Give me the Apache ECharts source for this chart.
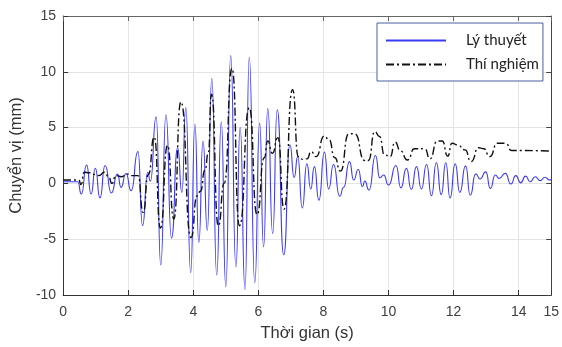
<!DOCTYPE html>
<html><head><meta charset="utf-8">
<script src="https://cdn.jsdelivr.net/npm/echarts@6/dist/echarts.min.js"></script>
<style>html,body{margin:0;padding:0;background:#fff}#c{width:562px;height:347px}</style>
</head><body><div id="c"></div>
<script>
// Lý thuyết (theory) – time (s) and displacement (mm)
const theoryT = [0,0.45,0.56,0.72,0.86,0.99,1.13,1.29,1.48,1.67,1.78,1.93,2.09,2.30,2.44,2.60,2.68,2.86,3.00,3.16,3.33,3.52,3.65,3.77,3.92,4.05,4.17,4.30,4.43,4.57,4.72,4.86,5.00,5.15,5.31,5.44,5.59,5.72,5.89,6.04,6.16,6.29,6.44,6.58,6.78,6.97,7.10,7.21,7.35,7.49,7.61,7.72,7.86,8.03,8.16,8.31,8.50,8.62,8.80,8.93,9.07,9.20,9.27,9.40,9.60,9.73,9.85,10.00,10.23,10.38,10.55,10.70,10.86,11.01,11.17,11.32,11.47,11.62,11.76,11.89,12.05,12.19,12.37,12.51,12.68,12.81,12.99,13.13,13.28,13.40,13.59,13.76,13.91,14.06,14.21,14.35,14.51,14.66,14.81,14.95,15.00];
const theoryV = [0.15,0.15,-0.95,1.66,-0.95,1.36,-1.3,1.6,-0.86,0.83,-0.36,0.89,-0.65,2.85,-3.77,1.0,0.2,5.96,-7.3,6.15,-4.9,3.2,-0.8,6.8,-8.0,5.3,-5.3,3.8,-4.2,9.4,-8.2,5.5,-9.26,11.45,-7.5,5.0,-9.5,11.3,-8.9,5.4,-5.7,6.7,-4.5,6.6,-6.4,3.44,0.53,2.4,-2.2,1.75,-0.5,1.5,-1.5,2.8,-0.5,1.7,-1.15,-0.35,1.95,0.3,1.25,-0.3,0.2,-0.6,2.5,0.5,0.75,-0.15,1.6,-0.4,1.35,-0.55,1.5,-0.5,1.7,-1.1,1.85,-1.0,1.85,-1.3,1.75,-0.8,1.57,-1.06,0.85,0.4,1.03,-0.45,0.75,0.45,0.9,-0.05,0.7,0.05,0.65,0.15,0.6,0.25,0.55,0.3,0.35];
// Thí nghiệm (experiment)
const testT = [0,0.48,0.55,0.65,0.80,1.00,1.10,1.27,1.40,1.50,1.62,1.80,1.95,2.10,2.30,2.46,2.62,2.80,2.99,3.21,3.40,3.62,3.93,4.12,4.22,4.36,4.46,4.56,4.77,4.95,5.19,5.42,5.72,5.96,6.18,6.29,6.43,6.60,6.79,7.05,7.23,7.37,7.50,7.62,7.77,8.03,8.17,8.35,8.52,8.78,8.96,9.27,9.38,9.58,9.72,9.88,10.05,10.20,10.37,10.58,10.80,11.12,11.27,11.50,11.65,11.82,11.95,12.12,12.35,12.54,12.77,12.93,13.11,13.35,13.60,13.78,15.00];
const testV = [0.3,0.3,-0.1,1.0,0.95,0.8,0.7,1.0,0.6,0.0,0.7,0.6,0.85,0.7,0.7,-2.6,0.8,4.15,-4.0,3.4,-3.2,7.3,-4.85,-1.1,-0.7,1.2,2.7,8.0,-3.8,0.0,10.3,-3.8,6.77,-2.8,2.3,3.8,2.7,4.1,-2.3,8.4,2.4,2.15,2.2,2.85,2.4,4.25,3.9,2.3,1.1,4.45,4.45,2.05,2.05,4.65,4.2,2.55,2.4,3.7,2.9,2.1,3.1,3.1,2.2,3.8,3.8,2.45,3.6,3.45,3.0,1.95,3.2,3.1,2.4,3.6,3.6,2.95,2.9];

const seriesNames = ['Lý thuyết', 'Thí nghiệm'];
const xTitle = 'Thời gian (s)';
const yTitle = 'Chuyển vị (mm)';

const zip = (a, b) => a.map((t, i) => [t, b[i]]);
const chart = echarts.init(document.getElementById('c'), null, {renderer: 'canvas'});
const axisFont = 'Liberation Sans, Arial, sans-serif';
const baseX = {type: 'value', min: 0, max: 15, interval: 2};
const baseY = {type: 'value', min: -10, max: 15, interval: 5};
chart.setOption({
  animation: false,
  backgroundColor: '#fff',
  grid: {left: 60, right: 8, top: 16, bottom: 50, containLabel: false},
  legend: {
    orient: 'vertical', left: 377, top: 23,
    padding: [10, 4, 9, 8], itemGap: 9, itemWidth: 60, itemHeight: 14,
    borderColor: '#4a5f9c', borderWidth: 1, backgroundColor: '#fff',
    itemStyle: {opacity: 0},
    textStyle: {fontFamily: 'Lato, Open Sans, sans-serif', fontSize: 15, color: '#222', padding: [0, 0, 0, 15]},
    data: seriesNames
  },
  xAxis: [
    Object.assign({}, baseX, {
      position: 'bottom',
      name: xTitle, nameLocation: 'middle', nameGap: 30,
      nameTextStyle: {fontFamily: axisFont, fontSize: 16.5, color: '#333'},
      axisLine: {show: true, onZero: false, lineStyle: {color: '#333', width: 1}},
      axisTick: {show: true, inside: true, length: 5, lineStyle: {color: '#333'}},
      axisLabel: {fontFamily: axisFont, fontSize: 14, color: '#404040', margin: 10},
      splitLine: {show: true, lineStyle: {color: '#e4e4e4', width: 1}}
    }),
    Object.assign({}, baseX, {
      position: 'top',
      axisLine: {show: true, onZero: false, lineStyle: {color: '#666', width: 1}},
      axisTick: {show: true, inside: true, length: 5, lineStyle: {color: '#666'}},
      axisLabel: {show: false},
      splitLine: {show: false}
    })
  ],
  yAxis: [
    Object.assign({}, baseY, {
      position: 'left',
      name: yTitle, nameLocation: 'middle', nameGap: 28, nameRotate: 90,
      nameTextStyle: {fontFamily: axisFont, fontSize: 16.5, color: '#333'},
      axisLine: {show: true, onZero: false, lineStyle: {color: '#333', width: 1}},
      axisTick: {show: true, inside: true, length: 5, lineStyle: {color: '#333'}},
      axisLabel: {fontFamily: axisFont, fontSize: 14, color: '#404040', margin: 7},
      splitLine: {show: true, lineStyle: {color: '#e4e4e4', width: 1}}
    }),
    Object.assign({}, baseY, {
      position: 'right',
      axisLine: {show: true, onZero: false, lineStyle: {color: '#444', width: 1}},
      axisTick: {show: true, inside: true, length: 5, lineStyle: {color: '#444'}},
      axisLabel: {show: false},
      splitLine: {show: false}
    })
  ],
  series: [
    {
      name: seriesNames[0], type: 'line', xAxisIndex: 0, yAxisIndex: 0,
      data: zip(theoryT, theoryV), smooth: 0.6, smoothMonotone: 'x', symbol: 'none',
      lineStyle: {color: '#3a3af5', width: 1.1},
      itemStyle: {color: '#3a3af5'}, z: 3
    },
    {
      name: seriesNames[1], type: 'line', xAxisIndex: 0, yAxisIndex: 0,
      data: zip(testT, testV), smooth: 0.6, smoothMonotone: 'x', symbol: 'none',
      lineStyle: {color: '#111', width: 1.4, type: [8, 3, 2, 3]},
      itemStyle: {color: '#111'}, z: 4
    }
  ]
});
</script></body></html>
